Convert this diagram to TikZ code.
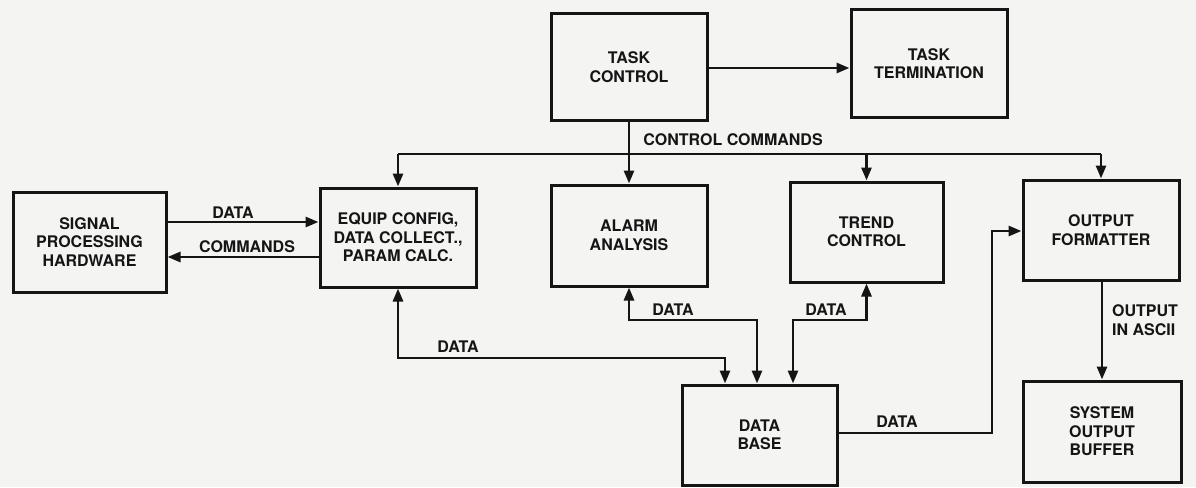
\documentclass[tikz,border=0pt]{standalone}
\usepackage{fontspec}
\setmainfont{TeX Gyre Heros}
\usetikzlibrary{arrows.meta}
\definecolor{paper}{HTML}{F4F4F2}
\definecolor{ink}{HTML}{151515}
\tikzset{
  txt/.style={font=\bfseries\fontsize{16}{18.5}\selectfont, text=ink},
  blk/.style={txt, draw=ink, line width=3pt, rectangle, inner sep=0pt,
    minimum width=156pt, minimum height=100pt, align=center},
  lbl/.style={txt, inner sep=0pt, align=left},
  wire/.style={draw=ink, line width=2.8pt},
  arr/.style={wire, -{Triangle[length=13pt,width=10pt]}},
  both/.style={wire, {Triangle[length=13pt,width=10pt]}-{Triangle[length=13pt,width=10pt]}}
}
\begin{document}
\begin{tikzpicture}[x=1pt,y=-1pt]
\fill[paper] (0,0) rectangle (1196,487);
\useasboundingbox (0,0) rectangle (1196,487);

% blocks
\node[blk, minimum width=153pt] (sph) at (89.5,242) {SIGNAL\\PROCESSING\\HARDWARE};
\node[blk, minimum height=99pt] (equip) at (398,237.5) {EQUIP CONFIG,\\DATA COLLECT.,\\PARAM CALC.};
\node[blk, minimum height=106pt] (tc) at (629,67) {TASK\\CONTROL};
\node[blk, minimum height=107pt] (tt) at (929,63.5) {TASK\\TERMINATION};
\node[blk, minimum height=101pt] (alarm) at (629,235.5) {ALARM\\ANALYSIS};
\node[blk, minimum width=153pt] (trend) at (866.5,232) {TREND\\CONTROL};
\node[blk] (of) at (1101,230) {OUTPUT\\FORMATTER};
\node[blk, minimum width=158pt, minimum height=101pt] (sob) at (1102,431.5) {SYSTEM\\OUTPUT\\BUFFER};
\node[blk, minimum width=155pt] (db) at (759.5,435) {DATA\\BASE};

% hardware link
\draw[arr] (sph.east |- 0,222) -- (equip.west |- 0,222);
\draw[arr] (equip.west |- 0,257) -- (sph.east |- 0,257);
\node[lbl] (ldata1) at (233,213) {DATA};
\node[lbl] (lcmd) at (247,247) {COMMANDS};

% task control
\draw[arr] (tc.east |- 0,68) -- (tt.west |- 0,68);
\coordinate (b0) at (398,154);
\coordinate (b1) at (1101,154);
\draw[wire] (b0) -- (b1);
\draw[arr] (b0) -- (equip.north);
\draw[arr] (tc.south) -- (alarm.north);
\draw[arr] (trend.north |- b0) -- (trend.north);
\draw[arr] (b1) -- (of.north);
\node[lbl] (lctl) at (733,140) {CONTROL COMMANDS};

% data base links
\coordinate (j1) at (725,358);
\coordinate (j2) at (757,320);
\coordinate (j3) at (793,320);
\draw[both] (equip.south) |- (j1) -- (j1 |- db.north);
\draw[both] (alarm.south) |- (j2) -- (j2 |- db.north);
\draw[both] (trend.south) |- (j3) -- (j3 |- db.north);
\node[lbl] (ldata2) at (458,347) {DATA};
\node[lbl] (ldata3) at (673,310) {DATA};
\node[lbl] (ldata4) at (826,310) {DATA};

\coordinate (k1) at (992,231);
\draw[arr] (db.east |- 0,433) -| (k1) -- (k1 -| of.west);
\node[lbl] (ldata5) at (897,422) {DATA};

% output path
\draw[arr] (of.south -| sob.north) -- (sob.north);
\node[lbl, anchor=west] (lasc) at (1112,320) {OUTPUT\\IN ASCII};
\end{tikzpicture}
\end{document}
